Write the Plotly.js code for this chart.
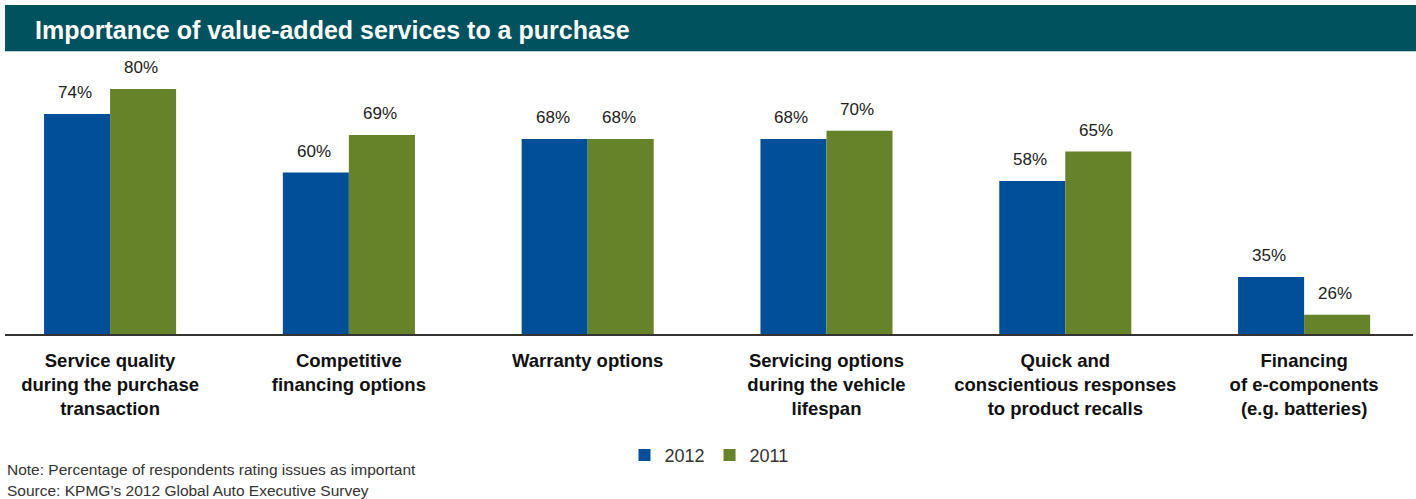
<!DOCTYPE html>
<html>
<head>
<meta charset="utf-8">
<script src="https://cdn.plot.ly/plotly-3.0.1.min.js"></script>
<style>html,body{margin:0;padding:0;background:#fff;}#chart{width:1416px;height:499px;}</style>
</head>
<body>
<div id="chart"></div>
<script>
const categories = [
  "Service quality<br>during the purchase<br>transaction",
  "Competitive<br>financing options",
  "Warranty options",
  "Servicing options<br>during the vehicle<br>lifespan",
  "Quick and<br>conscientious responses<br>to product recalls",
  "Financing<br>of e-components<br>(e.g. batteries)"
];
const values2012 = [74, 60, 68, 68, 58, 35];
const values2011 = [80, 69, 68, 70, 65, 26];
const seriesNames = ["2012", "2011"];
const noteLines = [
  "Note: Percentage of respondents rating issues as important",
  "Source: KPMG\u2019s 2012 Global Auto Executive Survey"
];
const chartTitle = "Importance of value-added services to a purchase";

const FONT = "'Liberation Sans Narrow', 'Liberation Sans', Arial, sans-serif";
const BLUE = "#004f98";
const GREEN = "#668329";

const traces = [
  {type: "bar", name: seriesNames[0], x: categories, y: values2012, marker: {color: BLUE}, hoverinfo: "skip"},
  {type: "bar", name: seriesNames[1], x: categories, y: values2011, marker: {color: GREEN}, hoverinfo: "skip"}
];

const annotations = [];
categories.forEach((c, i) => {
  annotations.push({x: c, y: values2012[i], xref: "x", yref: "y", text: values2012[i] + "%",
    showarrow: false, xshift: -35, yshift: 10, yanchor: "bottom", font: {family: FONT, size: 17, color: "#222"}});
  annotations.push({x: c, y: values2011[i], xref: "x", yref: "y", text: values2011[i] + "%",
    showarrow: false, xshift: 31, yshift: 10, yanchor: "bottom", font: {family: FONT, size: 17, color: "#222"}});
});
noteLines.forEach((t, i) => {
  annotations.push({x: 0, xref: "paper", xanchor: "left", y: [-0.482, -0.557][i], yref: "paper", yanchor: "middle",
    text: t, showarrow: false, font: {family: FONT, size: 15.5, color: "#333"}});
});

const layout = {
  width: 1416, height: 499,
  margin: {l: 5, r: 3, t: 55, b: 164},
  paper_bgcolor: "#fff", plot_bgcolor: "#fff",
  barmode: "group", bargap: 0.447, bargroupgap: 0,
  title: {text: "<b>" + chartTitle + "</b>", x: 0.0247, xanchor: "left", y: 0.94, yanchor: "middle",
    font: {family: FONT, size: 25, color: "#fff"}},
  xaxis: {type: "category", range: [-0.44, 5.456], showgrid: false, zeroline: false,
    showline: false, ticks: "", ticklabelstandoff: 12,
    tickfont: {family: FONT, size: 18.5, color: "#111", weight: "bold"},
    fixedrange: true},
  yaxis: {range: [21.15, 88.1], showgrid: false, zeroline: false, showline: false,
    showticklabels: false, ticks: "", fixedrange: true},
  showlegend: true,
  legend: {orientation: "h", x: 0.5, xanchor: "center", y: -0.43, yanchor: "middle",
    font: {family: FONT, size: 18, color: "#333"}, traceorder: "normal", itemwidth: 30},
  shapes: [
    {type: "rect", xref: "paper", yref: "paper", x0: 0, x1: 1.003, y0: 1.013, y1: 1.1786,
      fillcolor: "#00525e", line: {width: 0}, layer: "below"},
    {type: "line", xref: "paper", yref: "paper", x0: 0, x1: 1, y0: 0, y1: 0,
      line: {color: "#333", width: 2}, layer: "above"}
  ],
  annotations: annotations
};

Plotly.newPlot("chart", traces, layout, {displayModeBar: false, staticPlot: true});
</script>
</body>
</html>
